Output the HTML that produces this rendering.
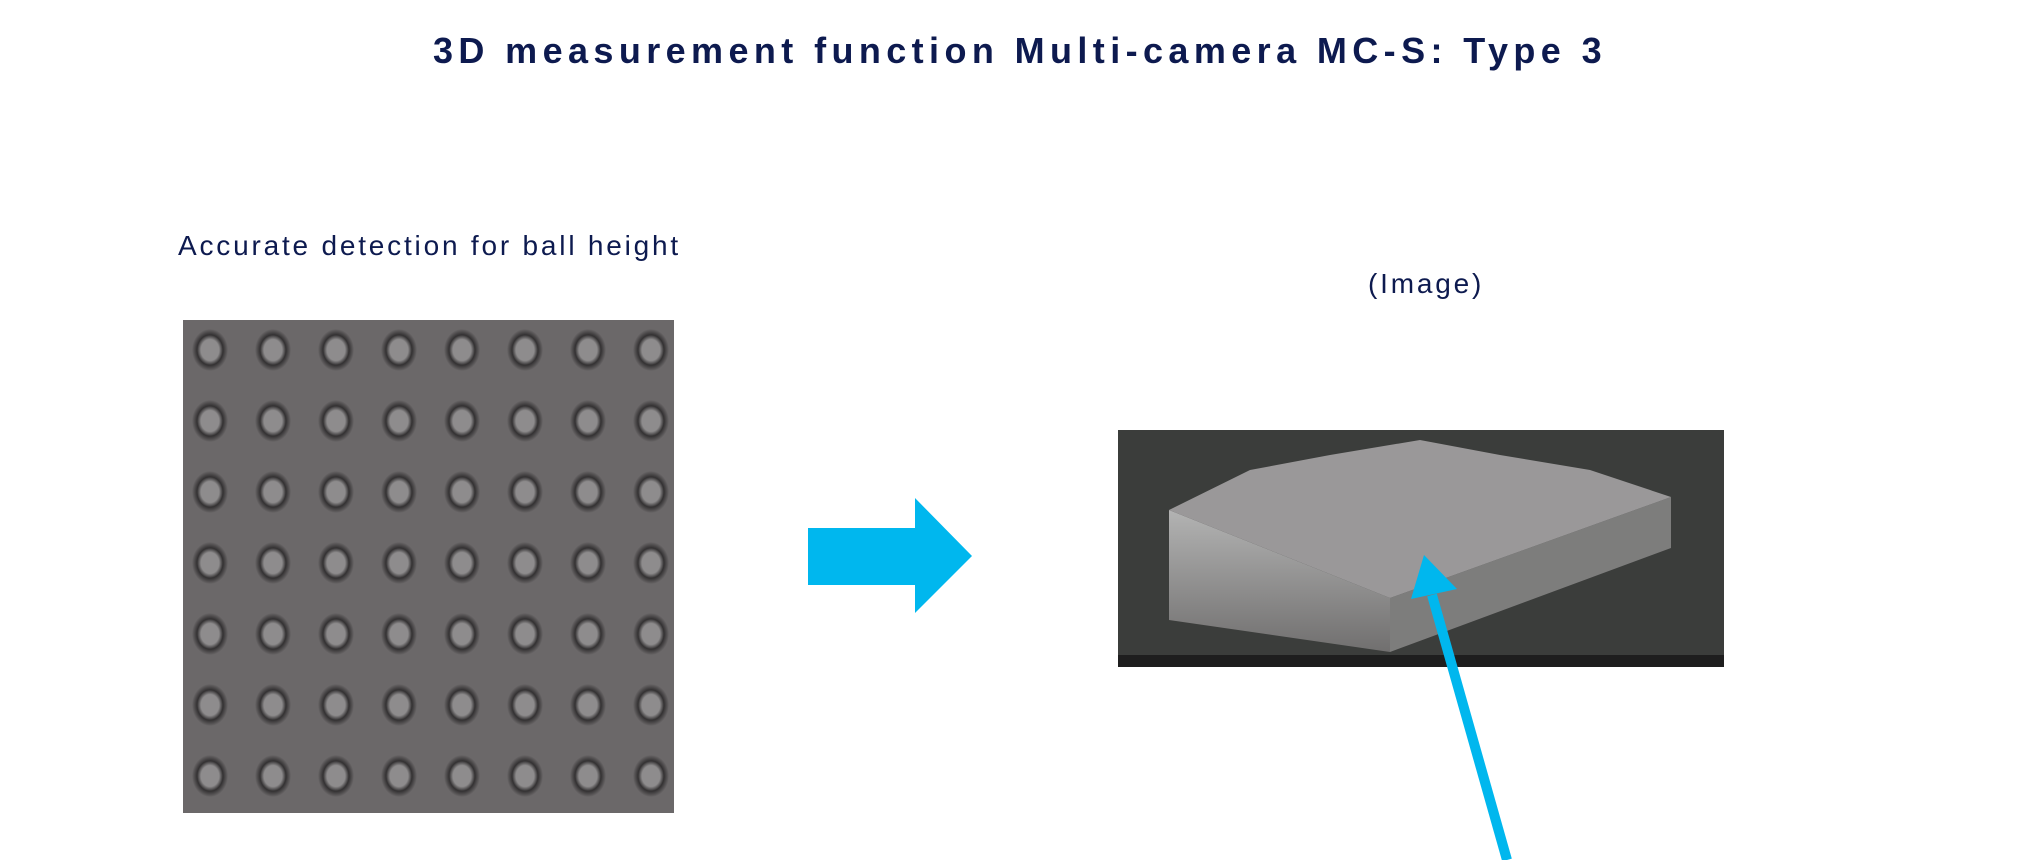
<!DOCTYPE html>
<html><head><meta charset="utf-8"><style>
html,body{margin:0;padding:0;background:#fff;}
body{width:2027px;height:860px;position:relative;overflow:hidden;font-family:"Liberation Sans","Noto Sans CJK JP",sans-serif;color:#0d1a4f;}
.t{position:absolute;white-space:nowrap;}
</style></head><body>
<div class="t" style="left:0;width:2040px;text-align:center;top:30px;font-size:36px;font-weight:bold;letter-spacing:5.4px;">3D measurement function Multi-camera MC-S: Type 3</div>
<div class="t" style="left:178px;top:230px;font-size:28px;letter-spacing:2.8px;">Accurate detection for ball height</div>
<div class="t" style="left:1368px;top:268px;font-size:28px;letter-spacing:2.8px;">(Image)</div>
<svg width="2027" height="860" style="position:absolute;left:0;top:0">
<defs>
<radialGradient id="d" cx="0.5" cy="0.5" r="0.5">
<stop offset="0.5" stop-color="#8e8c8d"/><stop offset="0.72" stop-color="#333132"/><stop offset="1" stop-color="#6a6768"/>
</radialGradient>
<linearGradient id="f" x1="0" y1="0" x2="0" y2="1"><stop offset="0" stop-color="#c8c8c8"/><stop offset="1" stop-color="#7a7878"/></linearGradient>
</defs>
<rect x="183" y="320" width="491" height="493" fill="#6b6869"/>
<g id="grid"></g>
<rect x="1118" y="430" width="606" height="237" fill="#3b3d3b"/>
<rect x="1118" y="655" width="606" height="12" fill="#1e1e1e"/>
<polygon points="1169,510 1390,598 1390,652 1169,620" fill="url(#f)" opacity="0.85"/>
<polygon points="1390,598 1671,497 1671,548 1390,652" fill="#8a8888" opacity="0.85"/>
<polygon points="1169,510 1250,470 1330,455 1420,440 1500,455 1590,470 1671,497 1390,598" fill="#9a9899"/>
<polygon points="808,528 915,528 915,498 972,556 915,613 915,585 808,585" fill="#00b7ee"/>
<line x1="1507" y1="860" x2="1432" y2="595" stroke="#00b7ee" stroke-width="10"/>
<polygon points="1424,555 1411,599 1457,589" fill="#00b7ee"/>
</svg>
<script>
var g=document.getElementById('grid'),s='';
for(var r=0;r<7;r++)for(var c=0;c<8;c++){
var x=183+27+c*63,y=320+30+r*71;
s+='<ellipse cx="'+x+'" cy="'+y+'" rx="18" ry="21" fill="url(#d)"/>';}
g.innerHTML=s;
</script>
</body></html>
